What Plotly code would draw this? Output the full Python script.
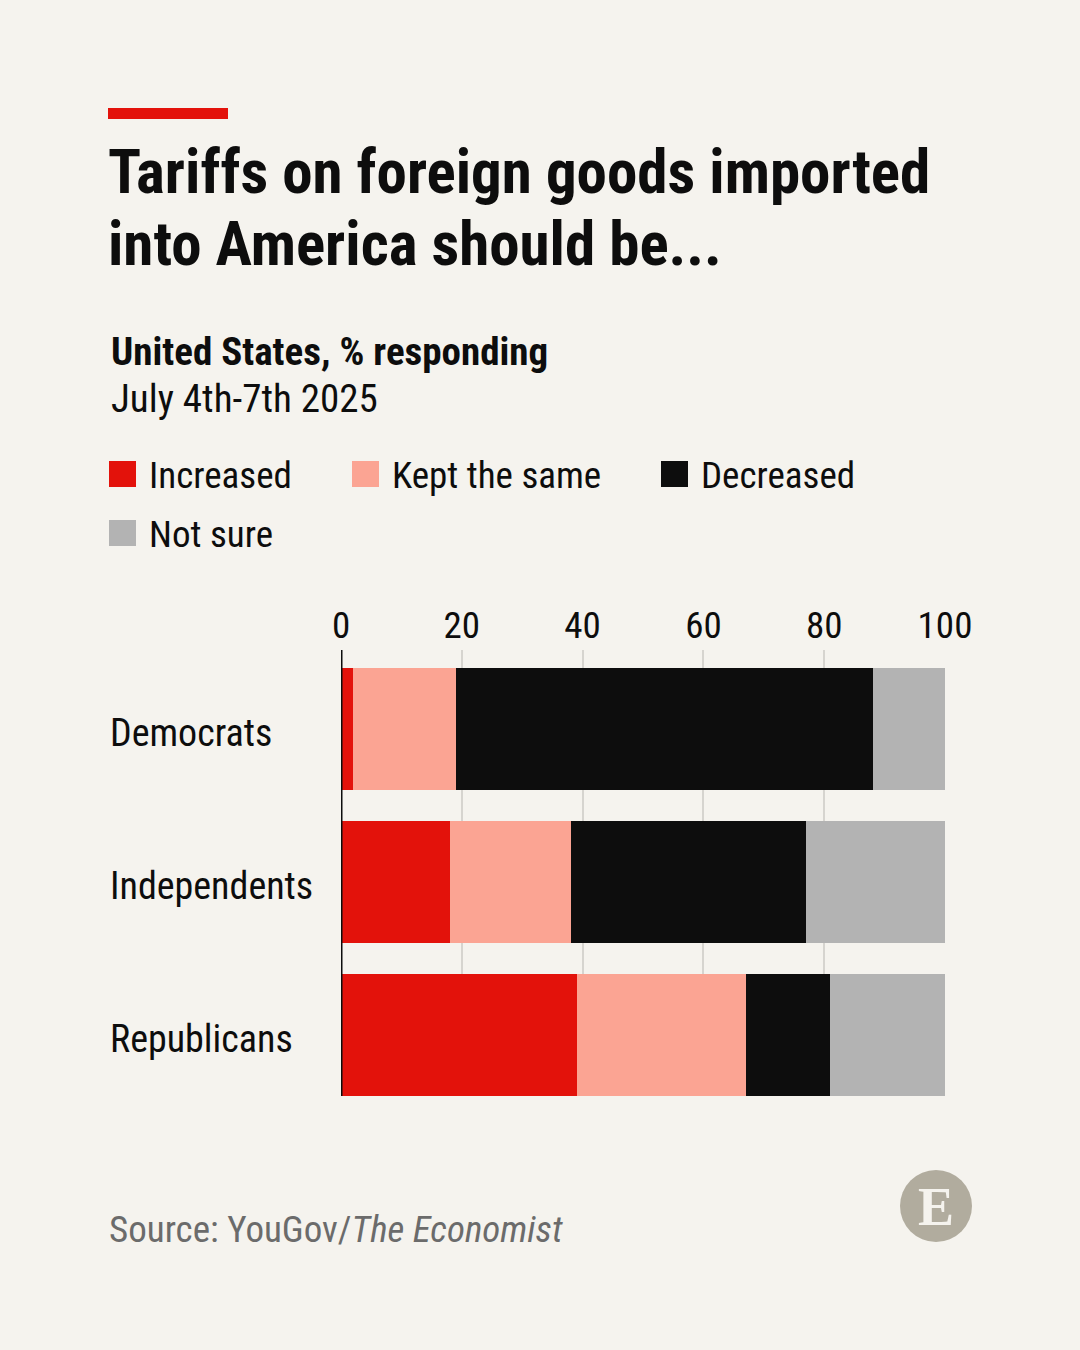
import plotly.graph_objects as go

# ---- data ----
categories = ["Democrats", "Independents", "Republicans"]
series_names = ["Increased", "Kept the same", "Decreased", "Not sure"]
increased = [2, 18, 39]
kept_same = [17, 20, 28]
decreased = [69, 39, 14]
not_sure = [12, 23, 19]
tick_vals = [0, 20, 40, 60, 80, 100]

series_values = [increased, kept_same, decreased, not_sure]
colors = ["#e3120b", "#fba493", "#0d0d0d", "#b3b3b3"]

BG = "#f5f3ee"
FONT = "Roboto Condensed, Liberation Sans Narrow, Roboto, sans-serif"
W, H = 1080, 1350
L, R, T, B = 341, 945, 650, 1096


def xp(px):
    return (px - L) / (R - L)


def yp(py):
    return (B - py) / (B - T)


fig = go.Figure()
for name, vals, col in zip(series_names, series_values, colors):
    fig.add_trace(go.Bar(
        y=categories, x=vals, name=name, orientation="h",
        marker=dict(color=col, line=dict(width=0)),
        showlegend=False, hoverinfo="skip",
    ))

ann = []
shapes = []

# red accent bar
shapes.append(dict(type="rect", xref="paper", yref="paper",
                   x0=xp(108), x1=xp(228), y0=yp(119), y1=yp(108),
                   fillcolor="#e3120b", line=dict(width=0), layer="above"))

# title
ann.append(dict(text="<b>Tariffs on foreign goods imported</b>", x=xp(106), y=yp(172),
                xanchor="left", yanchor="middle", font=dict(size=61, color="#0d0d0d", family=FONT)))
ann.append(dict(text="<b>into America should be...</b>", x=xp(106), y=yp(244),
                xanchor="left", yanchor="middle", font=dict(size=61, color="#0d0d0d", family=FONT)))
# subtitle
ann.append(dict(text="<b>United States, % responding</b>", x=xp(109), y=yp(352),
                xanchor="left", yanchor="middle", font=dict(size=39, color="#0d0d0d", family=FONT)))
ann.append(dict(text="July 4th-7th 2025", x=xp(109), y=yp(399),
                xanchor="left", yanchor="middle", font=dict(size=39, color="#0d0d0d", family=FONT)))

# legend (manual)
legend_pos = [(109, 474), (352, 474), (661, 474), (109, 533)]
for (lx, ly), name, col in zip(legend_pos, series_names, colors):
    shapes.append(dict(type="rect", xref="paper", yref="paper",
                       x0=xp(lx), x1=xp(lx + 27), y0=yp(ly + 13), y1=yp(ly - 13),
                       fillcolor=col, line=dict(width=0), layer="above"))
    ann.append(dict(text=name, x=xp(lx + 38), y=yp(ly + 1), xanchor="left", yanchor="middle",
                    font=dict(size=37, color="#0d0d0d", family=FONT)))

# category labels
for c in categories:
    ann.append(dict(text=c, x=xp(108), y=c, yref="y", xanchor="left", yanchor="middle",
                    yshift=-4, font=dict(size=38, color="#0d0d0d", family=FONT)))

# zero axis line
shapes.append(dict(type="line", xref="x", yref="paper", x0=0, x1=0, y0=0, y1=1,
                   line=dict(color="#0d0d0d", width=3), layer="above"))

# source
ann.append(dict(text="Source: YouGov/<i>The Economist</i>", x=xp(107), y=yp(1229),
                xanchor="left", yanchor="middle", font=dict(size=37, color="#6b6b6b", family=FONT)))

# logo
shapes.append(dict(type="circle", xref="paper", yref="paper",
                   x0=xp(900), x1=xp(972), y0=yp(1242), y1=yp(1170),
                   fillcolor="#b1ac9e", line=dict(width=0), layer="above"))
ann.append(dict(text="<b>E</b>", x=xp(936), y=yp(1207), xanchor="center", yanchor="middle",
                font=dict(size=54, color="#f5f3ee", family="Liberation Serif, DejaVu Serif, serif")))

for a in ann:
    a.setdefault("xref", "paper")
    a.setdefault("yref", "paper")
    a["showarrow"] = False

fig.update_layout(
    width=W, height=H,
    paper_bgcolor=BG, plot_bgcolor=BG,
    barmode="stack", bargap=0.2,
    margin=dict(l=L, r=W - R, t=T, b=H - B, pad=0),
    annotations=ann, shapes=shapes,
    xaxis=dict(range=[0, 100], side="top", tickvals=tick_vals,
               showgrid=True, gridcolor="#d6d4cf", gridwidth=2,
               zeroline=False, showline=False, ticks="",
               tickfont=dict(size=37, color="#0d0d0d", family=FONT),
               ticklabelstandoff=4, fixedrange=True),
    yaxis=dict(range=[2.4, -0.518], showticklabels=False, showgrid=False,
               zeroline=False, showline=False, ticks="", fixedrange=True),
    font=dict(family=FONT),
)

fig.write_html(
    "out.html",
    config={"displayModeBar": False},
    post_script="document.body.style.margin='0';document.body.style.background='%s';" % BG,
)
